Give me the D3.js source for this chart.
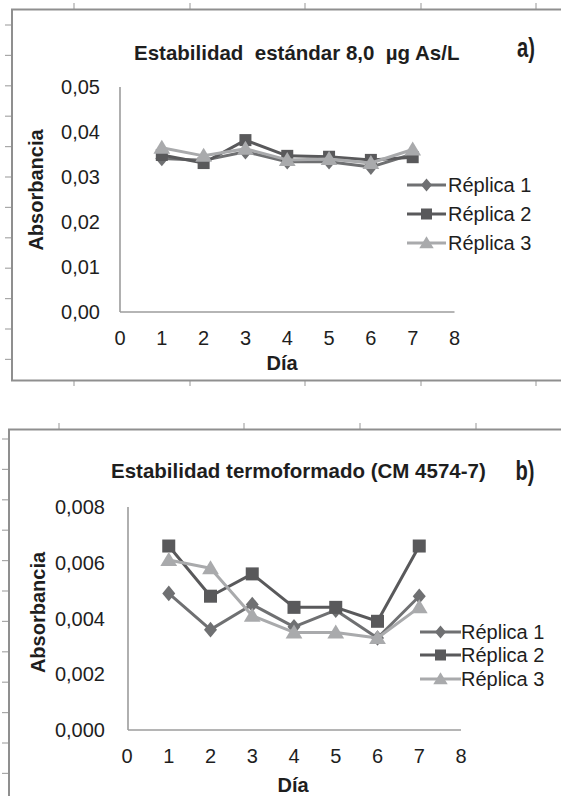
<!DOCTYPE html>
<html>
<head>
<meta charset="utf-8">
<script src="https://cdn.jsdelivr.net/npm/d3@7"></script>
<style>
  html, body { margin: 0; padding: 0; background: #fff; }
  svg { display: block; }
  text { font-family: "Liberation Sans", Arial, sans-serif; fill: #1e1e1e; }
</style>
</head>
<body>
<script>
// ---------- data ----------
const days = [1, 2, 3, 4, 5, 6, 7];
const seriesNames = ["Réplica 1", "Réplica 2", "Réplica 3"];
const xTicks = [0, 1, 2, 3, 4, 5, 6, 7, 8];

// Chart a) Estabilidad estándar 8,0 µg As/L
const titleA = "Estabilidad  estándar 8,0  µg As/L";
const a_rep1 = [0.0341, 0.0337, 0.0356, 0.0334, 0.0334, 0.0322, 0.0351];
const a_rep2 = [0.0349, 0.0331, 0.0382, 0.0347, 0.0345, 0.0338, 0.0344];
const a_rep3 = [0.0365, 0.0347, 0.0363, 0.0338, 0.0340, 0.0331, 0.0361];
const a_yTicks = [0, 0.01, 0.02, 0.03, 0.04, 0.05];
const a_yLabels = ["0,00", "0,01", "0,02", "0,03", "0,04", "0,05"];

// Chart b) Estabilidad termoformado (CM 4574-7)
const titleB = "Estabilidad termoformado (CM 4574-7)";
const b_rep1 = [0.0049, 0.0036, 0.0045, 0.0037, 0.0043, 0.0033, 0.0048];
const b_rep2 = [0.0066, 0.0048, 0.0056, 0.0044, 0.0044, 0.0039, 0.0066];
const b_rep3 = [0.0061, 0.0058, 0.0041, 0.0035, 0.0035, 0.0033, 0.0044];
const b_yTicks = [0, 0.002, 0.004, 0.006, 0.008];
const b_yLabels = ["0,000", "0,002", "0,004", "0,006", "0,008"];

// ---------- styles ----------
const colors = ["#6f7072", "#59595b", "#a9aaac"];
const shapes = ["diamond", "square", "triangle"];
const frameColor = "#8f8f8f";
const axisColor = "#9c9c9c";

const svg = d3.select("body").append("svg")
  .attr("width", 561).attr("height", 796);

function marker(g, shape, cx, cy, color, s) {
  if (shape === "diamond") {
    g.append("path")
      .attr("d", `M${cx},${cy - s * 0.6}L${cx + s * 0.5},${cy}L${cx},${cy + s * 0.6}L${cx - s * 0.5},${cy}Z`)
      .attr("fill", color);
  } else if (shape === "square") {
    g.append("rect").attr("x", cx - s / 2).attr("y", cy - s / 2)
      .attr("width", s).attr("height", s).attr("fill", color);
  } else {
    const h = s * 0.95;
    g.append("path")
      .attr("d", `M${cx},${cy - h * 0.6}L${cx + s * 0.6},${cy + h * 0.45}L${cx - s * 0.6},${cy + h * 0.45}Z`)
      .attr("fill", color);
  }
}

function drawChart(cfg) {
  const g = svg.append("g");
  // frame
  g.append("rect")
    .attr("x", cfg.frame.x).attr("y", cfg.frame.y)
    .attr("width", cfg.frame.w).attr("height", cfg.frame.h)
    .attr("fill", "none").attr("stroke", frameColor).attr("stroke-width", 2);

  const x = d3.scaleLinear().domain([0, 8]).range(cfg.xRange);
  const y = d3.scaleLinear().domain(cfg.yDomain).range(cfg.yRange);

  // axes lines
  g.append("line").attr("x1", cfg.axisX).attr("x2", cfg.axisX)
    .attr("y1", y(cfg.yDomain[1])).attr("y2", y(0))
    .attr("stroke", axisColor).attr("stroke-width", 1.6);
  g.append("line").attr("x1", cfg.axisX).attr("x2", x(8))
    .attr("y1", y(0)).attr("y2", y(0))
    .attr("stroke", axisColor).attr("stroke-width", 1.6);

  // y tick labels
  g.selectAll(".yl").data(cfg.yTicks).enter().append("text")
    .attr("x", cfg.yLabelX).attr("y", d => y(d))
    .attr("text-anchor", "end").attr("dominant-baseline", "central")
    .style("font-size", "20px")
    .text((d, i) => cfg.yLabels[i]);

  // x tick labels
  g.selectAll(".xl").data(xTicks).enter().append("text")
    .attr("x", d => x(d)).attr("y", cfg.xLabelY)
    .attr("text-anchor", "middle").attr("dominant-baseline", "central")
    .style("font-size", "20px")
    .text(d => d);

  // axis titles
  g.append("text")
    .attr("transform", `translate(${cfg.yTitle[0]},${cfg.yTitle[1]}) rotate(-90)`)
    .attr("text-anchor", "middle").attr("dominant-baseline", "central")
    .style("font-size", "20px").style("font-weight", "bold")
    .text("Absorbancia");
  g.append("text")
    .attr("x", cfg.xTitle[0]).attr("y", cfg.xTitle[1])
    .attr("text-anchor", "middle").attr("dominant-baseline", "central")
    .style("font-size", "20px").style("font-weight", "bold")
    .text("Día");

  // title
  g.append("text")
    .attr("x", cfg.titlePos[0]).attr("y", cfg.titlePos[1])
    .style("font-size", "20.5px").style("font-weight", "bold")
    .style("white-space", "pre").attr("xml:space", "preserve")
    .text(cfg.title);
  // panel letter (condensed bold)
  g.append("text")
    .attr("transform", `translate(${cfg.letterPos[0]},${cfg.letterPos[1]}) scale(0.72,1)`)
    .attr("text-anchor", "middle")
    .style("font-size", "28px").style("font-weight", "bold")
    .text(cfg.letter);

  // series
  const line = d3.line().x((d, i) => x(days[i])).y(d => y(d));
  cfg.series.forEach((vals, si) => {
    g.append("path").datum(vals)
      .attr("d", line)
      .attr("fill", "none").attr("stroke", colors[si])
      .attr("stroke-width", 3).attr("stroke-linejoin", "round");
    const mg = g.append("g");
    vals.forEach((v, i) => marker(mg, shapes[si], x(days[i]), y(v), colors[si], cfg.markerSize[si]));
  });

  // legend
  seriesNames.forEach((name, si) => {
    const ly = cfg.legend.y[si];
    g.append("line").attr("x1", cfg.legend.x1).attr("x2", cfg.legend.x2)
      .attr("y1", ly).attr("y2", ly)
      .attr("stroke", colors[si]).attr("stroke-width", 3);
    marker(g, shapes[si], (cfg.legend.x1 + cfg.legend.x2) / 2, ly, colors[si], cfg.legendMarker[si]);
    g.append("text").attr("x", cfg.legend.tx).attr("y", ly)
      .attr("dominant-baseline", "central")
      .style("font-size", "20px")
      .text(name);
  });
}

// decorative ruler ticks around the frames
function ticks(list) {
  list.forEach(t => {
    svg.append("line").attr("x1", t[0]).attr("y1", t[1]).attr("x2", t[2]).attr("y2", t[3])
      .attr("stroke", "#a8a8a8").attr("stroke-width", 1.2);
  });
}
const rulerA = [74, 190, 305, 421, 536];
const rulerB = [59, 244, 360, 476];
ticks(rulerA.map(v => [v, 3, v, 9]));
ticks(rulerA.map(v => [v, 381, v, 386]));
ticks(rulerB.map(v => [v, 423, v, 429]));
ticks(d3.range(12).map(i => [5, 25 + i * 30.4, 11, 25 + i * 30.4]));
ticks(d3.range(12).map(i => [2, 439 + i * 30.4, 8, 439 + i * 30.4]));

drawChart({
  frame: { x: 12, y: 9.5, w: 560, h: 371 },
  xRange: [120, 454.5], axisX: 120,
  yDomain: [0, 0.05], yRange: [312, 87],
  yTicks: a_yTicks, yLabels: a_yLabels, yLabelX: 100,
  xLabelY: 338,
  yTitle: [36, 190], xTitle: [282, 363],
  title: titleA, titlePos: [134, 59.5],
  letter: "a)", letterPos: [526, 57],
  series: [a_rep1, a_rep2, a_rep3],
  markerSize: [13, 12, 14],
  legend: { x1: 407, x2: 446, tx: 448, y: [185, 214, 243] },
  legendMarker: [11, 11, 12]
});

drawChart({
  frame: { x: 9, y: 429.5, w: 560, h: 400 },
  xRange: [127, 461], axisX: 128,
  yDomain: [0, 0.008], yRange: [730, 507],
  yTicks: b_yTicks, yLabels: b_yLabels, yLabelX: 105,
  xLabelY: 756,
  yTitle: [37.5, 612.5], xTitle: [293, 785],
  title: titleB, titlePos: [111, 478],
  letter: "b)", letterPos: [525, 480],
  series: [b_rep1, b_rep2, b_rep3],
  markerSize: [13, 13, 14],
  legend: { x1: 420, x2: 461, tx: 461, y: [632, 655, 679] },
  legendMarker: [11, 11, 12]
});
</script>
</body>
</html>
